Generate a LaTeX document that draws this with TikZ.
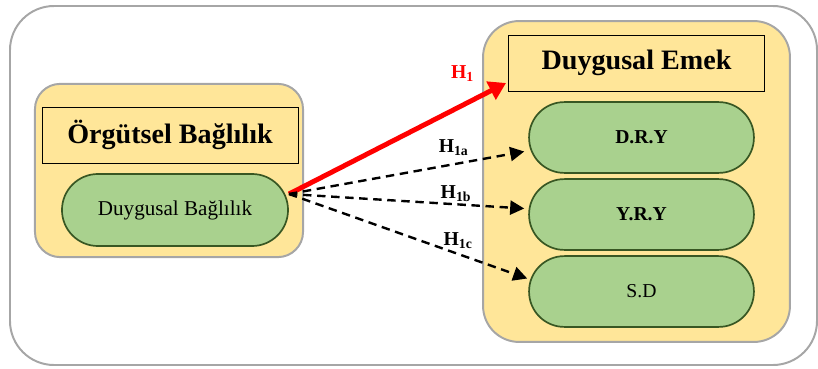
\documentclass[tikz,border=0pt]{standalone}
\usepackage{fontspec}
\setmainfont{Liberation Serif}
\usetikzlibrary{arrows.meta}

\definecolor{boxyellow}{HTML}{FFE699}
\definecolor{boxgreen}{HTML}{A9D18E}
\definecolor{darkgreen}{HTML}{385723}
\definecolor{framegray}{HTML}{A6A6A6}

\begin{document}
\begin{tikzpicture}[x=0.025cm,y=-0.025cm,
    group/.style={rectangle,draw=framegray,line width=1.4pt,fill=boxyellow},
    heading/.style={rectangle,draw=black,line width=0.6pt,fill=boxyellow,
      minimum width=6.4cm,minimum height=1.4cm,inner sep=0pt,font=\bfseries\fontsize{20}{24}\selectfont},
    factor/.style={rectangle,rounded corners=0.88cm,draw=darkgreen,line width=1.2pt,fill=boxgreen,
      minimum width=5.62cm,minimum height=1.77cm,inner sep=0pt,font=\fontsize{14}{16}\selectfont},
    hyp/.style={font=\bfseries\fontsize{14}{16}\selectfont,inner sep=2pt},
    dasharrow/.style={-{Triangle[length=10pt,width=10pt]},line width=1.7pt,dash pattern=on 6pt off 4pt}]
    \useasboundingbox (0,0) rectangle (818,369);
    % outer frame
    \draw[framegray,line width=1.4pt,rounded corners=1.1cm] (10,6) rectangle (817,365);

    % left group
    \node[group,rounded corners=0.63cm,minimum width=6.7cm,minimum height=4.33cm] (lg) at (169,170.5) {};
    \node[heading] (lt) at (170,135) {Örgütsel Bağlılık};
    \node[factor,minimum width=5.65cm,minimum height=1.8cm,rounded corners=0.9cm,
      font=\fontsize{15}{18}\selectfont] (src) at (175,210) {Duygusal Bağlılık};

    % right group
    \node[group,rounded corners=0.9cm,minimum width=7.67cm,minimum height=8.02cm] (rg) at (636.5,181.5) {};
    \node[heading] (rt) at (636.5,63) {Duygusal Emek};
    \node[factor,font=\bfseries\fontsize{14}{16}\selectfont] (dry) at (641.5,137.5) {D.R.Y};
    \node[factor,font=\bfseries\fontsize{14}{16}\selectfont] (yry) at (641.5,214.5) {Y.R.Y};
    \node[factor] (sd) at (641.5,291.5) {S.D};

    \coordinate (s) at (289,194);

    \draw[red,line width=3.5pt,-{Triangle[length=12pt,width=14pt]}] (s) -- ([shift={(-2,20)}]rt.west)
      node[hyp,pos=0.8,above=13pt,red] (h1) {H\textsubscript{1}};
    \draw[dasharrow] (s) -- ([shift={(-4,14)}]dry.west) node[hyp,pos=0.7,above=3pt] (h1a) {H\textsubscript{1a}};
    \draw[dasharrow] (s) -- ([shift={(-4,-6)}]yry.west) node[hyp,pos=0.71,above=-1pt] (h1b) {H\textsubscript{1b}};
    \draw[dasharrow] (s) -- ([shift={(-1,-13)}]sd.west) node[hyp,pos=0.71,above=1pt] (h1c) {H\textsubscript{1c}};
\end{tikzpicture}
\end{document}
